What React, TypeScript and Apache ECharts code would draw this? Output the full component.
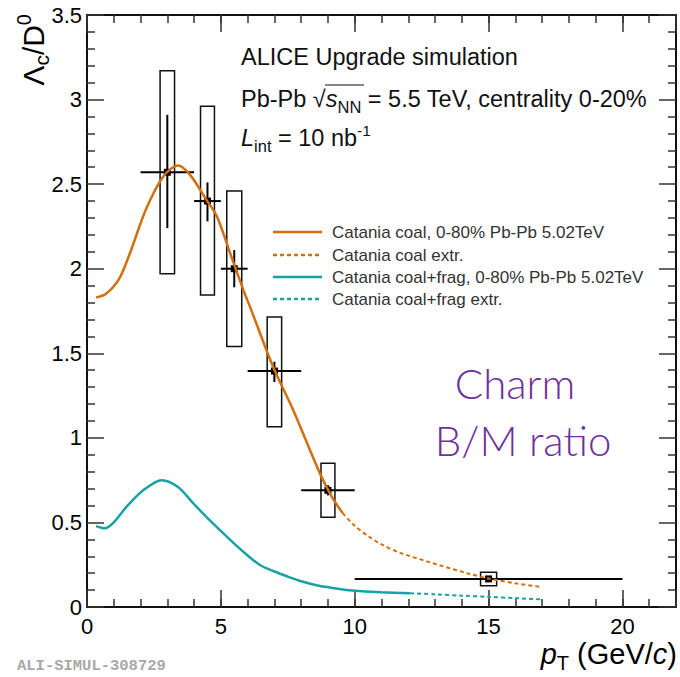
import React, { useEffect, useRef } from 'react';
import * as echarts from 'echarts';

// Catania coalescence (solid) and extrapolation (dashed)
const coalX = [0.34, 0.7, 1.2, 1.6, 2.2, 2.85, 3.4, 3.85, 4.45, 4.85, 5.35, 5.85, 6.1, 6.95, 7.7, 8.7, 9.15, 9.55];
const coalY = [1.83, 1.85, 1.94, 2.09, 2.35, 2.545, 2.61, 2.555, 2.41, 2.31, 2.09, 1.87, 1.77, 1.42, 1.165, 0.79, 0.65, 0.555];
const coalExtrX = [9.55, 10, 10.5, 11, 11.7, 12.9, 14.2, 15, 16, 17];
const coalExtrY = [0.555, 0.48, 0.42, 0.37, 0.32, 0.26, 0.2, 0.168, 0.14, 0.118];
// Catania coal+frag (solid) and extrapolation (dashed)
const fragX = [0.34, 0.67, 1.0, 1.48, 2.1, 2.79, 3.4, 3.97, 4.6, 5.22, 5.85, 6.46, 7.0, 7.5, 8.0, 8.7, 9.3, 10, 11, 12.07];
const fragY = [0.478, 0.465, 0.5, 0.593, 0.69, 0.75, 0.71, 0.613, 0.51, 0.416, 0.325, 0.248, 0.21, 0.18, 0.152, 0.124, 0.11, 0.096, 0.087, 0.081];
const fragExtrX = [12.07, 13, 14, 15, 16, 17];
const fragExtrY = [0.081, 0.075, 0.067, 0.06, 0.052, 0.045];

// ALICE upgrade projection points
const ptX = [3, 4.5, 5.5, 7, 9, 15];
const ptY = [2.57, 2.4, 2.0, 1.395, 0.69, 0.166];
const ptXLow = [2, 4, 5, 6, 8, 10];
const ptXHigh = [4, 5, 6, 8, 10, 20];
const statLow = [2.24, 2.28, 1.89, 1.33, 0.66, 0.155];
const statHigh = [2.91, 2.51, 2.11, 1.45, 0.72, 0.177];
const sysLow = [1.97, 1.845, 1.54, 1.066, 0.53, 0.125];
const sysHigh = [3.17, 2.96, 2.46, 1.715, 0.85, 0.205];
const sysHalfW = [0.27, 0.26, 0.28, 0.27, 0.26, 0.3];

const xTickLabels = [0, 5, 10, 15, 20];

const legendItems = [
  { text: 'Catania coal, 0-80% Pb-Pb 5.02TeV', color: '#d2700e', dashed: false },
  { text: 'Catania coal extr.', color: '#d2700e', dashed: true },
  { text: 'Catania coal+frag, 0-80% Pb-Pb 5.02TeV', color: '#17a3a3', dashed: false },
  { text: 'Catania coal+frag extr.', color: '#17a3a3', dashed: true },
];

const ORANGE = '#d2700e';
const TEAL = '#17a3a3';
const FONT = "'Liberation Sans', Arial, Helvetica, sans-serif";

const zip = (xs: number[], ys: number[]) => xs.map((x, i) => [x, ys[i]]);

export default function App() {
  const ref = useRef<HTMLDivElement>(null);
  useEffect(() => {
    document.body.style.margin = '0';
    const chart = echarts.init(ref.current!, null, { renderer: 'svg' });
    const axisLine = { show: true, onZero: false, lineStyle: { color: '#111', width: 2 } };
    const majorTick = { show: true, inside: true, length: 17, lineStyle: { color: '#333', width: 1.5 } };
    const minorTick = { show: true, inside: true, length: 8, lineStyle: { color: '#333', width: 1.5 } };
    const xBase = { type: 'value', min: 0, max: 22, splitLine: { show: false }, axisLine };
    const yBase = { type: 'value', min: 0, max: 3.5, interval: 0.5, splitLine: { show: false }, axisLine };

    const pointData = ptX.map((x, i) => [x, ptY[i], ptXLow[i], ptXHigh[i], statLow[i], statHigh[i], sysLow[i], sysHigh[i], sysHalfW[i]]);

    const legendGraphics: any[] = [];
    const legendRows = [232, 255, 277, 299];
    legendItems.forEach((it, i) => {
      legendGraphics.push({
        type: 'line', shape: { x1: 273, y1: legendRows[i], x2: 322, y2: legendRows[i] },
        style: { stroke: it.color, lineWidth: 2.5, lineDash: it.dashed ? [4, 3] : null },
      });
      legendGraphics.push({
        type: 'text', x: 332, y: legendRows[i],
        style: { text: it.text, fontSize: 17, fontFamily: FONT, fill: '#333', align: 'left', verticalAlign: 'middle', textAlign: 'left', textVerticalAlign: 'middle' },
      });
    });

    const option: any = {
      animation: false,
      grid: { left: 87, right: 4, top: 15, bottom: 70, containLabel: false },
      xAxis: [
        {
          ...xBase, position: 'bottom', interval: 5, axisTick: majorTick,
          axisLabel: { fontSize: 22, fontFamily: FONT, color: '#000', margin: 8,
            formatter: (v: number) => (xTickLabels.indexOf(v) >= 0 ? String(v) : '') },
        },
        { ...xBase, position: 'bottom', interval: 1, axisTick: minorTick, axisLabel: { show: false } },
        { ...xBase, position: 'top', interval: 5, axisTick: majorTick, axisLabel: { show: false } },
        { ...xBase, position: 'top', interval: 1, axisTick: minorTick, axisLabel: { show: false } },
      ],
      yAxis: [
        {
          ...yBase, position: 'left', axisTick: majorTick,
          minorTick: { show: true, splitNumber: 5, length: 8, lineStyle: { color: '#333', width: 1.5 } },
          axisLabel: { fontSize: 22, fontFamily: FONT, color: '#000', margin: 5 },
        },
        {
          ...yBase, position: 'right', axisTick: majorTick,
          minorTick: { show: true, splitNumber: 5, length: 8, lineStyle: { color: '#333', width: 1.5 } },
          axisLabel: { show: false },
        },
      ],
      series: [
        {
          type: 'custom', xAxisIndex: 0, yAxisIndex: 0, z: 2, clip: false,
          data: pointData,
          renderItem: (params: any, api: any) => {
            const x = api.value(0), y = api.value(1);
            const hw = api.value(8);
            const c = api.coord([x, y]);
            const xl = api.coord([api.value(2), y]);
            const xh = api.coord([api.value(3), y]);
            const sl = api.coord([x, api.value(4)]);
            const sh = api.coord([x, api.value(5)]);
            const bl = api.coord([x - hw, api.value(6)]);
            const bh = api.coord([x + hw, api.value(7)]);
            const m = 7;
            return {
              type: 'group',
              children: [
                { type: 'rect', shape: { x: bl[0], y: bh[1], width: bh[0] - bl[0], height: bl[1] - bh[1] },
                  style: { fill: 'none', stroke: '#111', lineWidth: 1.5 } },
                { type: 'line', shape: { x1: xl[0], y1: c[1], x2: xh[0], y2: c[1] }, style: { stroke: '#000', lineWidth: 2 } },
                { type: 'line', shape: { x1: c[0], y1: sl[1], x2: c[0], y2: sh[1] }, style: { stroke: '#000', lineWidth: 2 } },
                { type: 'rect', shape: { x: c[0] - m / 2, y: c[1] - m / 2, width: m, height: m }, style: { fill: '#000' } },
              ],
            };
          },
        },
        { type: 'line', data: zip(coalX, coalY), smooth: 0.3, symbol: 'none', z: 3, lineStyle: { color: ORANGE, width: 2.5 } },
        { type: 'line', data: zip(coalExtrX, coalExtrY), smooth: 0.3, symbol: 'none', z: 3, lineStyle: { color: ORANGE, width: 2, type: [4, 3] } },
        { type: 'line', data: zip(fragX, fragY), smooth: 0.3, symbol: 'none', z: 3, lineStyle: { color: TEAL, width: 2.5 } },
        { type: 'line', data: zip(fragExtrX, fragExtrY), smooth: 0.3, symbol: 'none', z: 3, lineStyle: { color: TEAL, width: 2, type: [4, 3] } },
      ],
      graphic: [
        {
          type: 'text', x: 241, y: 57,
          style: { text: 'ALICE Upgrade simulation', fontSize: 23.5, fontFamily: FONT, fill: '#111', align: 'left', verticalAlign: 'middle', textAlign: 'left', textVerticalAlign: 'middle' },
        },
        {
          type: 'text', x: 241, y: 99,
          style: {
            text: '{a|Pb-Pb }{a|√}{i|s}{sub|NN}{a| = 5.5 TeV, centrality 0-20%}',
            align: 'left', verticalAlign: 'middle', textAlign: 'left', textVerticalAlign: 'middle',
            rich: {
              a: { fontSize: 23.5, fontFamily: FONT, fill: '#111', lineHeight: 32 },
              i: { fontSize: 23.5, fontFamily: FONT, fontStyle: 'italic', fill: '#111', lineHeight: 32 },
              sub: { fontSize: 16.5, fontFamily: FONT, fill: '#111', lineHeight: 16, verticalAlign: 'bottom' },
            },
          },
        },
        { type: 'line', shape: { x1: 325, y1: 85, x2: 364, y2: 85 }, style: { stroke: '#111', lineWidth: 1.2 } },
        {
          type: 'text', x: 241, y: 138,
          style: {
            text: '{i|L}{sub|int}{a| = 10 nb}{sup|-1}',
            align: 'left', verticalAlign: 'middle', textAlign: 'left', textVerticalAlign: 'middle',
            rich: {
              a: { fontSize: 23.5, fontFamily: FONT, fill: '#111', lineHeight: 32 },
              i: { fontSize: 23.5, fontFamily: FONT, fontStyle: 'italic', fill: '#111', lineHeight: 32 },
              sub: { fontSize: 16.5, fontFamily: FONT, fill: '#111', lineHeight: 16, verticalAlign: 'bottom' },
              sup: { fontSize: 15.5, fontFamily: FONT, fill: '#111', lineHeight: 15, verticalAlign: 'top' },
            },
          },
        },
        ...legendGraphics,
        {
          type: 'text', x: 515, y: 383,
          style: { text: 'Charm', fontSize: 42, fontFamily: "Lato, 'Open Sans', sans-serif", fontWeight: 300, fill: '#7030a0', align: 'center', verticalAlign: 'middle', textAlign: 'center', textVerticalAlign: 'middle' },
        },
        {
          type: 'text', x: 523, y: 440,
          style: { text: 'B/M ratio', fontSize: 42, fontFamily: "Lato, 'Open Sans', sans-serif", fontWeight: 300, fill: '#7030a0', align: 'center', verticalAlign: 'middle', textAlign: 'center', textVerticalAlign: 'middle' },
        },
        {
          type: 'text', x: 677, y: 654,
          style: {
            text: '{i|p}{sub|T}{a| (GeV/}{i|c}{a|)}',
            align: 'right', verticalAlign: 'middle', textAlign: 'right', textVerticalAlign: 'middle',
            rich: {
              a: { fontSize: 29, fontFamily: FONT, fill: '#000', lineHeight: 38 },
              i: { fontSize: 29, fontFamily: FONT, fontStyle: 'italic', fill: '#000', lineHeight: 38 },
              sub: { fontSize: 20, fontFamily: FONT, fill: '#000', lineHeight: 20, verticalAlign: 'bottom' },
            },
          },
        },
        {
          type: 'text', x: 33, y: 14, rotation: Math.PI / 2,
          style: {
            text: '{a|Λ}{sub|c}{a|/D}{sup|0}',
            align: 'right', verticalAlign: 'middle', textAlign: 'right', textVerticalAlign: 'middle',
            rich: {
              a: { fontSize: 30, fontFamily: FONT, fill: '#000', lineHeight: 38 },
              sub: { fontSize: 21, fontFamily: FONT, fill: '#000', lineHeight: 21, verticalAlign: 'bottom' },
              sup: { fontSize: 20, fontFamily: FONT, fill: '#000', lineHeight: 20, verticalAlign: 'top' },
            },
          },
        },
        {
          type: 'text', x: 17, y: 666,
          style: { text: 'ALI-SIMUL-308729', fontSize: 15.5, fontWeight: 'bold', fontFamily: "'Liberation Mono', 'DejaVu Sans Mono', monospace", fill: '#a8a8a8', align: 'left', verticalAlign: 'middle', textAlign: 'left', textVerticalAlign: 'middle' },
        },
      ],
    };
    chart.setOption(option);
    return () => chart.dispose();
  }, []);
  return <div ref={ref} style={{ width: 680, height: 677 }} />;
}
